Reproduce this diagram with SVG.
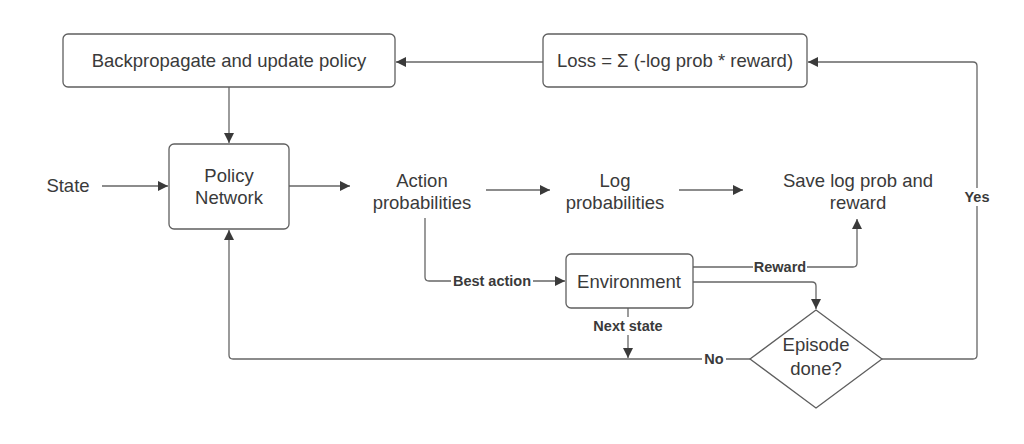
<svg xmlns="http://www.w3.org/2000/svg" width="1024" height="444" viewBox="0 0 1024 444">
<style>
.box{fill:#fff;stroke:#5f5f5f;stroke-width:1.3}
.t{font-family:"Liberation Sans",Arial,sans-serif;font-size:18.5px;fill:#3a3a3a;text-anchor:middle}
.lb{font-family:"Liberation Sans",Arial,sans-serif;font-size:14.5px;font-weight:bold;fill:#3a3a3a;text-anchor:middle}
.c{fill:none;stroke:#666;stroke-width:1.3}
.bg{fill:#fff}
</style>
<defs>
<marker id="ah" viewBox="0 0 10 10" refX="10" refY="5" markerWidth="10" markerHeight="10" markerUnits="userSpaceOnUse" orient="auto">
<path d="M0,0 L10,5 L0,10 Z" fill="#3a3a3a"/>
</marker>
</defs>
<rect width="1024" height="444" fill="#fff"/>
<g id="connectors">
<path class="c" d="M543,62 L396,62" marker-end="url(#ah)"/>
<path class="c" d="M229,87 L229,143" marker-end="url(#ah)"/>
<path class="c" d="M102,186 L168,186" marker-end="url(#ah)"/>
<path class="c" d="M289,186 L350,186" marker-end="url(#ah)"/>
<path class="c" d="M486,190 L550,190" marker-end="url(#ah)"/>
<path class="c" d="M679,190 L743,190" marker-end="url(#ah)"/>
<path class="c" d="M425,218 L425,277 Q425,281 429,281 L565,281" marker-end="url(#ah)"/>
<path class="c" d="M693,267 L853,267 Q857,267 857,263 L857,219" marker-end="url(#ah)"/>
<path class="c" d="M693,282 L812,282 Q816,282 816,286 L816,309" marker-end="url(#ah)"/>
<path class="c" d="M628,308 L628,358" marker-end="url(#ah)"/>
<path class="c" d="M750,359 L233,359 Q229,359 229,355 L229,230" marker-end="url(#ah)"/>
<path class="c" d="M882,359 L973,359 Q977,359 977,355 L977,66 Q977,62 973,62 L808,62" marker-end="url(#ah)"/>
<rect class="bg" x="451" y="272" width="82" height="18"/>
<text class="lb" x="492" y="286">Best action</text>
<rect class="bg" x="753" y="258" width="54" height="18"/>
<text class="lb" x="780" y="272">Reward</text>
<rect class="bg" x="590" y="317" width="76" height="18"/>
<text class="lb" x="628" y="331">Next state</text>
<rect class="bg" x="702" y="350" width="24" height="18"/>
<text class="lb" x="714" y="364">No</text>
<rect class="bg" x="962" y="188" width="30" height="18"/>
<text class="lb" x="977" y="202">Yes</text>
</g>
<g id="backprop">
<rect class="box" x="63" y="34" width="332" height="53" rx="5"/>
<text class="t" x="229" y="67">Backpropagate and update policy</text>
</g>
<g id="loss">
<rect class="box" x="543" y="34" width="264" height="53" rx="5"/>
<text class="t" x="675" y="67">Loss = Σ (-log prob * reward)</text>
</g>
<g id="state">
<text class="t" x="68" y="192">State</text>
</g>
<g id="policy">
<rect class="box" x="169" y="144" width="120" height="85" rx="5"/>
<text class="t" x="229" y="182">Policy</text>
<text class="t" x="229" y="204">Network</text>
</g>
<g id="action">
<text class="t" x="422" y="187">Action</text>
<text class="t" x="422" y="209">probabilities</text>
</g>
<g id="logprob">
<text class="t" x="615" y="187">Log</text>
<text class="t" x="615" y="209">probabilities</text>
</g>
<g id="save">
<text class="t" x="858" y="187">Save log prob and</text>
<text class="t" x="858" y="209">reward</text>
</g>
<g id="environment">
<rect class="box" x="566" y="254" width="127" height="54" rx="5"/>
<text class="t" x="629" y="288">Environment</text>
</g>
<g id="episode">
<path class="box" d="M816,310 L882,359 L816,408 L750,359 Z" stroke-linejoin="round"/>
<text class="t" x="816" y="351">Episode</text>
<text class="t" x="816" y="375">done?</text>
</g>
</svg>
